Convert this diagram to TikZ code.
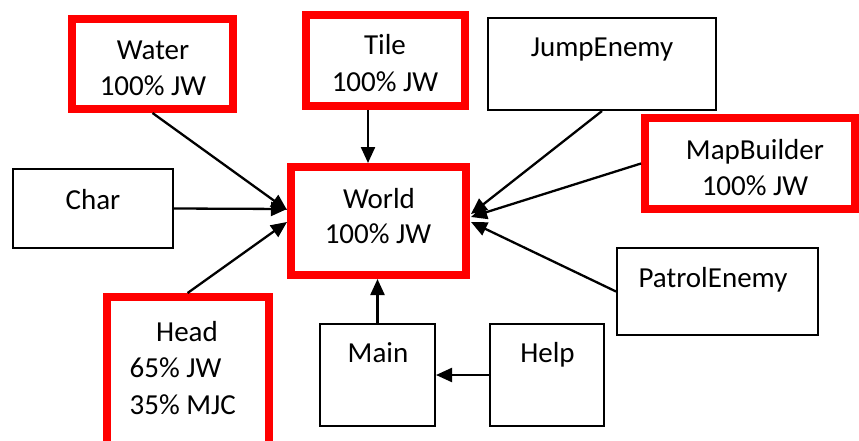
\documentclass[tikz,border=0pt]{standalone}
\usepackage{fontspec}
\setmainfont{Carlito}
\usetikzlibrary{arrows.meta,calc}
\begin{document}
\begin{tikzpicture}[x=1pt,y=-1pt,
  redbox/.style={draw=red, line width=8pt, inner sep=0pt, outer sep=4pt},
  blkbox/.style={draw=black, line width=2pt, inner sep=0pt, outer sep=1pt},
  lbl/.style={font=\fontsize{29}{34}\selectfont, inner sep=0pt, anchor=base},
  lbll/.style={lbl, anchor=base west},
  arr/.style={line width=2.3pt, -{Triangle[length=16pt,width=14pt]}}]
\useasboundingbox (0,0) rectangle (859,441);
% boxes
\node[redbox, minimum width=161pt, minimum height=90pt] (water) at (152.5,64) {};
\node[redbox, minimum width=159pt, minimum height=91pt] (tile) at (385.5,60.5) {};
\node[blkbox, minimum width=228pt, minimum height=92pt] (jump) at (602,64) {};
\node[redbox, minimum width=210pt, minimum height=91pt] (map) at (750,163.5) {};
\node[blkbox, minimum width=160pt, minimum height=79pt] (char) at (93,208.5) {};
\node[redbox, minimum width=175pt, minimum height=108pt] (world) at (378.5,221) {};
\node[blkbox, minimum width=201pt, minimum height=87pt] (patrol) at (717.5,291.5) {};
\node[redbox, minimum width=162pt, minimum height=163pt] (head) at (187.6,378.5) {};
\node[blkbox, minimum width=115pt, minimum height=102pt] (main) at (377.5,375) {};
\node[blkbox, minimum width=114pt, minimum height=102pt] (help) at (547,375) {};
% labels
\node[lbl] (waterA) at (153,60) {Water};
\node[lbl] (waterB) at (153,96) {100\% JW};
\node[lbl] (tileA) at (385,55) {Tile};
\node[lbl] (tileB) at (385,92) {100\% JW};
\node[lbl] (jumpA) at (602,57) {JumpEnemy};
\node[lbl] (mapA) at (755,160) {MapBuilder};
\node[lbl] (mapB) at (755,195) {100\% JW};
\node[lbl] (charA) at (93,209) {Char};
\node[lbl] (worldA) at (379,208) {World};
\node[lbl] (worldB) at (378,243) {100\% JW};
\node[lbl] (patrolA) at (713,287) {PatrolEnemy};
\node[lbl] (headA) at (187,341) {Head};
\node[lbll] (headB) at (129.5,377) {65\% JW};
\node[lbll] (headC) at (129.5,414) {35\% MJC};
\node[lbl] (mainA) at (378,362) {Main};
\node[lbl] (helpA) at (547.5,362) {Help};
% connectors
\draw[arr] (water.south) -- ($(world.west)+(0,-11)$);
\draw[arr] (char.east) -- ($(world.west)+(0,-12)$);
\draw[arr] (head.north) -- ($(world.west)+(0,1)$);
\draw[arr] ($(tile.south)+(-17.5,0)$) -- ($(world.north)+(-10.5,0)$);
\draw[arr] (main.north) -- ($(world.south)+(-1,0)$);
\draw[arr] (jump.south) -- ($(world.east)+(1,-7)$);
\draw[arr] (map.west) -- ($(world.east)+(1,-4)$);
\draw[arr] (patrol.west) -- ($(world.east)+(1,1)$);
\draw[arr] (help.west) -- (main.east);
\end{tikzpicture}
\end{document}
